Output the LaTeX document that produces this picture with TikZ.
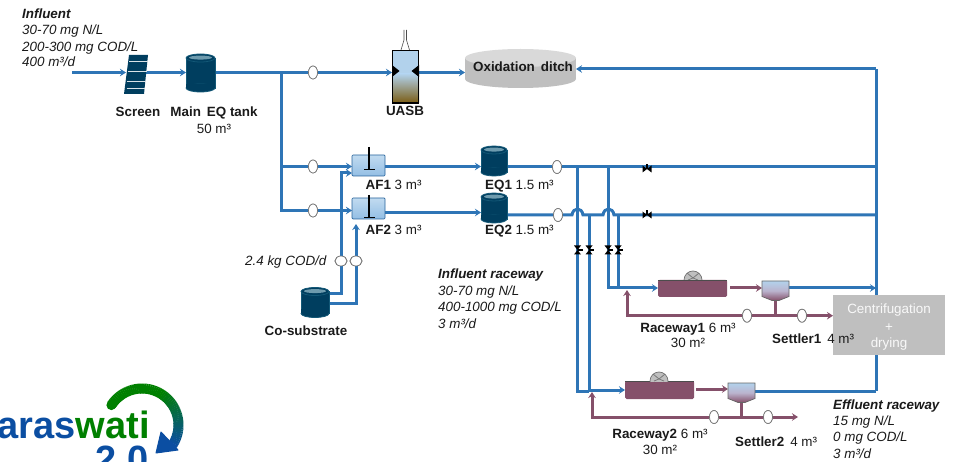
\documentclass[tikz,border=0pt]{standalone}
\usepackage{fontspec}
\setmainfont{Liberation Sans}
\usetikzlibrary{arrows.meta,shapes.geometric}
\definecolor{pipeb}{HTML}{2E75B6}
\definecolor{pipep}{HTML}{85506A}
\definecolor{tankd}{HTML}{003E5F}
\definecolor{tanke}{HTML}{135877}
\definecolor{tanktop}{HTML}{6E9BAE}
\definecolor{boxg}{HTML}{BFBFBF}
\definecolor{logob}{HTML}{0B4EA2}
\definecolor{logog}{HTML}{008000}
\definecolor{lbl}{HTML}{1A1A1A}
\definecolor{liqtop}{HTML}{B2D2EC}
\definecolor{liqlow}{HTML}{93BEE4}
\definecolor{liqmid}{HTML}{BBB4CE}
\definecolor{sludge}{HTML}{7A5C12}
\tikzset{
  x=1pt,y=-1pt,
  bpipe/.style={draw=pipeb,line width=3pt},
  ppipe/.style={draw=pipep,line width=3pt},
  barrow/.style={bpipe,-{Stealth[length=6pt,width=7.5pt]}},
  parrow/.style={ppipe,-{Stealth[length=6pt,width=7.5pt]}},
  spot/.style={inner sep=0pt,minimum size=0pt,outer sep=0pt},
  valve/.style={ellipse,draw=black!55,line width=.7pt,fill=white,inner sep=0pt,minimum width=9pt,minimum height=13pt},
  valvew/.style={valve,minimum width=12pt,minimum height=10pt},
  txt/.style={inner sep=0pt,text=lbl,font=\fontsize{13.4}{16}\selectfont,anchor=base west},
  ctxt/.style={txt,anchor=base},
  ittxt/.style={txt,font=\fontsize{13.4}{16}\selectfont\itshape},
  bf/.style={font=\fontsize{13.4}{16}\selectfont\bfseries},
}
\newcommand{\tank}[5]{% name cx cy w h
  \node[spot,minimum width=#4pt,minimum height=#5pt] (#1) at (#2,#3) {};
}
\newcommand{\tankdraw}[4]{% cx cy w h
  \fill[tankd,draw=tanke,line width=.8pt] (#1-#3/2,#2-#4/2+4) rectangle (#1+#3/2,#2+#4/2-4);
  \fill[tankd,draw=tanke,line width=.8pt] (#1,#2+#4/2-4) ellipse[x radius=#3/2,y radius=4];
  \fill[tankd] (#1-#3/2+.4,#2+#4/2-8) rectangle (#1+#3/2-.4,#2+#4/2-4);
  \fill[tankd,draw=tanke,line width=.8pt] (#1,#2-#4/2+4) ellipse[x radius=#3/2,y radius=4];
  \fill[tanktop] (#1,#2-#4/2+3.6) ellipse[x radius=#3/2-3,y radius=2];
}
\newcommand{\bowh}[2]{% horizontal pipe valve
  \fill[black] (#1-4.5,#2-3.5) -- (#1,#2) -- (#1-4.5,#2+3.5) -- cycle;
  \fill[black] (#1+4.5,#2-3.5) -- (#1,#2) -- (#1+4.5,#2+3.5) -- cycle;
  \fill[black] (#1-1,#2-5) rectangle (#1+1,#2);
}
\newcommand{\bowv}[2]{% vertical pipe valve
  \fill[black] (#1-3.5,#2-4.5) -- (#1,#2) -- (#1+3.5,#2-4.5) -- cycle;
  \fill[black] (#1-3.5,#2+4.5) -- (#1,#2) -- (#1+3.5,#2+4.5) -- cycle;
  \fill[black] (#1,#2-1) rectangle (#1+5,#2+.6);
}
\newcommand{\mixer}[2]{% x top
  \draw[black,line width=1.3pt] (#1,#2) -- (#1,#2+23);
  \draw[black,line width=1.6pt] (#1-5,#2+22.5) -- (#1+6,#2+22.5);
}
\newcommand{\paddle}[2]{%
  \begin{scope}
  \clip (#1-11,#2-12) rectangle (#1+11,#2);
  \fill[black!25,draw=black!55,line width=.7pt] (#1,#2) circle[radius=9];
  \draw[black!55,line width=.7pt] (#1-6,#2-7) -- (#1,#2-2) -- (#1+6,#2-7) (#1,#2-2) -- (#1-5,#2) (#1,#2-2) -- (#1+5,#2);
  \end{scope}
}
\newcommand{\settler}[2]{% x-left y-top
  \shade[top color=liqtop,bottom color=pipep,middle color=liqmid,draw=black!60,line width=.7pt]
    (#1,#2) -- (#1+27,#2) -- (#1+27,#2+15.5) -- (#1+17,#2+19.5) -- (#1+10,#2+19.5) -- (#1,#2+15.5) -- cycle;
}
\begin{document}
\begin{tikzpicture}
\useasboundingbox (0,0) rectangle (953,462);
\clip (0,0) rectangle (953,462);

% named places
\coordinate (inlet) at (72,72.5);
\node[spot,minimum width=20pt,minimum height=38pt] (screen) at (136,74) {};
\tank{maineq}{200.5}{73}{29}{38}
\node[spot,minimum width=27pt,minimum height=54pt] (uasb) at (405.5,77) {};
\node[spot,minimum width=111pt,minimum height=39pt] (ditch) at (520.5,68.5) {};
\coordinate (j1) at (281,72.5);
\coordinate (j1b) at (281,166.5);
\coordinate (j1c) at (281,210.5);
\node[valve] (v0) at (313,72.5) {};
\node[valve] (v1) at (313,166.5) {};
\node[valve] (v2) at (313,210.5) {};
\node[spot,minimum width=33pt,minimum height=21pt] (af1) at (368.5,165.5) {};
\node[spot,minimum width=33pt,minimum height=21pt] (af2) at (368.5,208.5) {};
\tank{eq1}{494}{161}{26}{30}
\tank{eq2}{494}{208}{26}{30}
\tank{cosub}{315}{302.5}{28}{30}
\node[valve] (v3) at (557,167) {};
\node[valve] (v4) at (558,215) {};
\node[valvew] (v5) at (341,261) {};
\node[valvew] (v6) at (356,261) {};
\node[spot,minimum width=69pt,minimum height=17pt] (race1) at (692.5,288.5) {};
\node[spot,minimum width=69pt,minimum height=18pt] (race2) at (659.5,390) {};
\node[spot,minimum width=27pt,minimum height=20pt] (set1) at (775.5,291) {};
\node[spot,minimum width=27pt,minimum height=20pt] (set2) at (741.5,392.5) {};
\node[spot,minimum width=112pt,minimum height=60pt] (box) at (889,325) {};
\node[valve] (v7) at (747,315.7) {};
\node[valve] (v8) at (802,315.7) {};
\node[valve] (v9) at (714,417) {};
\node[valve] (v10) at (768,417) {};
\coordinate (rr) at (876,69);
\coordinate (rb) at (876,391);
\coordinate (e1) at (876,167);
\coordinate (e2) at (876,215);
\coordinate (e3) at (876,288);
\coordinate (d2end) at (798,417);

% main line
\draw[barrow] (inlet) -- (screen.west |- inlet);
\draw[barrow] (screen.east |- inlet) -- (maineq.west |- inlet);
\draw[bpipe] (maineq.east |- inlet) -- (v0);
\draw[barrow] (v0) -- (uasb.west |- v0);
\draw[barrow] (uasb.east |- v0) -- (ditch.west |- v0);
\draw[bpipe] (j1) -- (j1c) -- (v2);
\draw[bpipe] (j1b) -- (v1);
\draw[barrow] (v1) -- (af1.west |- v1);
\draw[barrow] (v2) -- (af2.west |- v2);
\draw[barrow] (af1.east |- v1) -- (eq1.west |- v1);
\draw[barrow] (af2.east |- 0,212.5) -- (eq2.west |- 0,212.5);
\draw[bpipe] (eq1.east |- v3) -- (v3) -- (e1);
\draw[bpipe] (eq2.east |- v4) -- (v4) -- (572,215) .. controls (573,207) and (582,207) .. (583,215) -- (603,215) .. controls (604,207) and (613,207) .. (614,215) -- (e2);
% co-substrate
\draw[barrow] (cosub.east |- 0,294) -| (v5) -- (341,173) -- (af1.west |- 0,173);
\draw[barrow] (cosub.east |- 0,303.5) -| (v6) -- (356,224);
% splits
\draw[bpipe] (577,167) -- (577,391) -- (589,391);
\draw[bpipe] (589,215) -- (589,391);
\draw[barrow] (589,390) -- (race2.west |- 0,390);
\draw[bpipe] (608,167) -- (608,288) -- (618,288);
\draw[bpipe] (618,215) -- (618,288);
\draw[barrow] (618,288) -- (race1.west |- 0,288);
% return to ditch
\draw[bpipe] (rb) -- (e3) -- (rr);
\draw[barrow] (rr) -- (ditch.east |- rr);
\draw[bpipe] (set2.east |- rb) -- (rb);
\draw[barrow] (set1.east |- e3) -- (e3);
% purple
\draw[parrow] (730,288) -- (set1.west |- 0,288);
\draw[parrow] (696,389) -- (set2.west |- 0,389);
\draw[ppipe] (set1.south) -- (775.5,315.7);
\draw[ppipe] (set2.south) -- (741.5,417);
\draw[parrow] (v7) -- (627,315.7) -- (627,290);
\draw[parrow] (v7) -- (box.west |- v7);
\draw[parrow] (v9) -- (592,417) -- (592,392);
\draw[parrow] (v9) -- (d2end);
% redraw valves over the pipes
\node[valve] at (v0) {};
\node[valve] at (v1) {};
\node[valve] at (v2) {};
\node[valve] at (v3) {};
\node[valve] at (v4) {};
\node[valvew] at (v5) {};
\node[valvew] at (v6) {};
\node[valve] at (v7) {};
\node[valve] at (v8) {};
\node[valve] at (v9) {};
\node[valve] at (v10) {};
\bowh{647}{169}
\bowh{647}{215}
\bowv{577.5}{250}
\bowv{589}{250}
\bowv{608}{250}
\bowv{618}{250}

% screen
\fill[tankd] (129,55) -- (148,55) -- (144,94) -- (124,94) -- cycle;
\foreach \yy/\xa/\xb in {61/129/147.5,71/128/146.5,81/127/145.5,88/126.5/145}
  \draw[white!85!tankd,line width=.9pt] (\xa,\yy) -- (\xb,\yy);
% tanks
\tankdraw{200.5}{73}{29}{38}
\tankdraw{494}{161}{26}{30}
\tankdraw{494}{208}{26}{30}
\tankdraw{315}{302.5}{28}{30}
% UASB
\draw[black!70,line width=.6pt] (404,30) -- (404,40) -- (401,50) (406.5,30) -- (406.5,40) -- (409.5,50);
\fill[liqtop] (392,50) rectangle (419,74);
\shade[top color=liqtop,bottom color=sludge] (392,74) rectangle (419,103);
\draw[black,line width=1.6pt] (392.5,50.5) rectangle (418.5,103);
\fill[black] (392,65) -- (399.5,71) -- (392,77) -- cycle;
\fill[black] (419,65) -- (411.5,71) -- (419,77) -- cycle;
% ditch
\fill[boxg] (465,58) rectangle (576,79);
\fill[boxg] (520.5,79) ellipse[x radius=55.5,y radius=9];
\fill[black!15] (520.5,58) ellipse[x radius=55.5,y radius=9];
% AF tanks
\foreach \yy in {155,198}{
  \shade[top color=liqtop!80!white,bottom color=liqlow,draw=pipeb!85!black,line width=.7pt,rounded corners=1pt]
    (352,\yy) rectangle (385,\yy+21);
}
\mixer{369}{147}
\mixer{369}{195}
% raceways
\fill[pipep,rounded corners=1.5pt] (658,280) rectangle (727,297);
\draw[black!70,line width=.5pt] (658,280) -- (727,280);
\fill[pipep,rounded corners=1.5pt] (625,381) rectangle (694,399);
\draw[black!70,line width=.5pt] (625,381) -- (694,381);
\paddle{693}{280}
\paddle{659}{381}
\settler{762}{281}
\settler{728}{383}
% centrifuge
\fill[boxg] (box.north west) rectangle (box.south east);
\node[txt,anchor=base,text=white!90!boxg] (c1) at (889,314) {Centrifugation};
\node[txt,anchor=base,text=white!90!boxg] (c2) at (889,331) {+};
\node[txt,anchor=base,text=white!90!boxg] (c3) at (889,347) {drying};

% labels
\node[ittxt] (t1) at (22,19) {\bfseries Influent};
\node[ittxt] (t2) at (22,35) {30-70 mg N/L};
\node[ittxt] (t3) at (22,51.5) {200-300 mg COD/L};
\node[ittxt] (t4) at (22,67) {400 m³/d};
\node[ctxt,bf] (t5) at (138,117) {Screen};
\node[ctxt,bf] (t6) at (214,117) {Main\, EQ tank};
\node[ctxt] (t7) at (214,134) {50 m³};
\node[ctxt,bf] (t8) at (405,116) {UASB};
\node[ctxt,bf] (t9) at (523,71.5) {Oxidation\, ditch};
\node[txt] (t10) at (365.5,190) {\textbf{AF1} 3 m³};
\node[txt] (t11) at (365.5,235) {\textbf{AF2} 3 m³};
\node[txt] (t12) at (485,190) {\textbf{EQ1} 1.5 m³};
\node[txt] (t13) at (485,235) {\textbf{EQ2} 1.5 m³};
\node[ittxt] (t14) at (245,266) {2.4 kg COD/d};
\node[ctxt,bf] (t15) at (306,335) {Co-substrate};
\node[ittxt] (t16) at (438,279) {\bfseries Influent raceway};
\node[ittxt] (t17) at (438,295.5) {30-70 mg N/L};
\node[ittxt] (t18) at (438,311.5) {400-1000 mg COD/L};
\node[ittxt] (t19) at (438,328) {3 m³/d};
\node[ctxt] (t20) at (688,332) {\textbf{Raceway1} 6 m³};
\node[ctxt] (t21) at (688,348) {30 m²};
\node[txt] (t22) at (772,343) {\textbf{Settler1}\, 4 m³};
\node[ctxt] (t23) at (660,438) {\textbf{Raceway2} 6 m³};
\node[ctxt] (t24) at (660,454) {30 m²};
\node[txt] (t25) at (735,446) {\textbf{Settler2}\, 4 m³};
\node[ittxt] (t26) at (833,409) {\bfseries Effluent raceway};
\node[ittxt] (t27) at (833,425.5) {15 mg N/L};
\node[ittxt] (t28) at (833,441.5) {0 mg COD/L};
\node[ittxt] (t29) at (833,458) {3 m³/d};

% logo
\node[inner sep=0pt,anchor=base east,font=\fontsize{38}{40}\selectfont\bfseries] (logo) at (150,438) {\textcolor{logob}{aras}\textcolor{logog}{wati}};
\node[inner sep=0pt,anchor=base,text=logob,font=\fontsize{38}{40}\selectfont\bfseries] (logo2) at (122,472) {2.0};
\foreach \a in {147,144,...,-30}{
  \pgfmathtruncatemacro{\p}{\a>60 ? 0 : (60-\a)*100/90}
  \draw[line width=10pt,color=logob!\p!logog,line cap=butt] ({142+36.5*cos(\a)},{425-36.5*sin(\a)}) -- ({142+36.5*cos(\a-3.5)},{425-36.5*sin(\a-3.5)});
}
\fill[logog] ({142+36.5*cos(147)},{425-36.5*sin(147)}) circle[radius=5];
\fill[logob,line join=round,draw=logob,line width=1pt] (161,432) -- (178,450) -- (156,453) -- cycle;
\end{tikzpicture}
\end{document}
